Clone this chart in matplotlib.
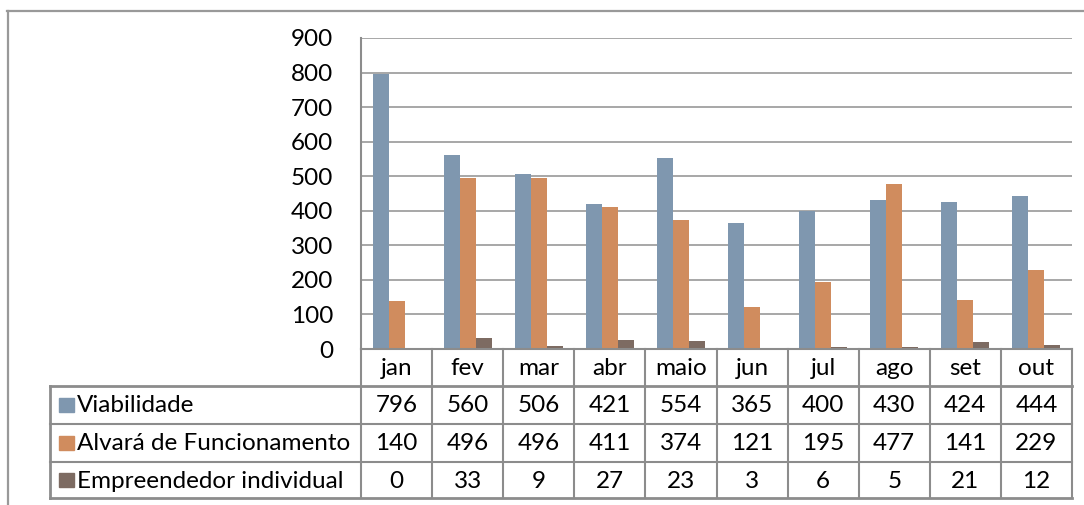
import matplotlib
matplotlib.use("Agg")
import matplotlib.pyplot as plt
from matplotlib.transforms import blended_transform_factory
from matplotlib.patches import Rectangle
from matplotlib.lines import Line2D
import numpy as np

months = ["jan", "fev", "mar", "abr", "maio", "jun", "jul", "ago", "set", "out"]
series_names = ["Viabilidade", "Alvará de Funcionamento", "Empreendedor individual"]
viabilidade = [796, 560, 506, 421, 554, 365, 400, 430, 424, 444]
alvara = [140, 496, 496, 411, 374, 121, 195, 477, 141, 229]
empreendedor = [0, 33, 9, 27, 23, 3, 6, 5, 21, 12]
yticks = [0, 100, 200, 300, 400, 500, 600, 700, 800, 900]

colors = ["#7F97AF", "#D08C5E", "#7D6B62"]
grid_c = "#A0A0A0"
border_c = "#8C8C8C"
FS = 17.5

plt.rcParams['font.family'] = ['Lato', 'DejaVu Sans']
W, H = 1084, 505
fig = plt.figure(figsize=(W / 100, H / 100), dpi=100)
ax = fig.add_axes([361 / W, 1 - 349 / H, (1072 - 361) / W, (349 - 38) / H])

data = [viabilidade, alvara, empreendedor]
x = np.arange(len(months))
bw = 0.225
for i, (vals, c) in enumerate(zip(data, colors)):
    ax.bar(x + (i - 1) * bw, vals, width=bw, color=c, zorder=3)

ax.set_xlim(-0.5, len(months) - 0.5)
ax.set_ylim(0, 900)
ax.set_yticks(yticks)
ax.set_yticklabels([str(v) for v in yticks], fontsize=FS)
ax.tick_params(axis='y', length=0, pad=20)
ax.set_xticks([])
ax.yaxis.grid(True, color=grid_c, linewidth=1.3, zorder=0)
for s in ["top", "right", "bottom"]:
    ax.spines[s].set_visible(False)
ax.spines["left"].set_color(border_c)
ax.spines["left"].set_linewidth(1.5)

# Data table below the axes
tr = blended_transform_factory(ax.transData, fig.transFigure)
def fy(py):
    return 1 - py / H

col_w = (1072 - 361) / len(months)
x_label_left = -0.5 - (361 - 50) / col_w
rows_y = [349, 386, 424, 462, 498]
xr = len(months) - 0.5

def hline(x0, x1, py, lw=1.5):
    fig.add_artist(Line2D([x0, x1], [fy(py), fy(py)], transform=tr, color=border_c, lw=lw, clip_on=False))

def vline(xx, py0, py1, lw=1.5):
    fig.add_artist(Line2D([xx, xx], [fy(py0), fy(py1)], transform=tr, color=border_c, lw=lw, clip_on=False))

hline(-0.5, xr, 349)
for py in rows_y[1:]:
    hline(x_label_left, xr, py, lw=2 if py in (386, 498) else 1.5)
for k in range(len(months) + 1):
    vline(k - 0.5, 349, 498)
vline(x_label_left, 386, 498, lw=2)

for k, m in enumerate(months):
    fig.text(k, fy((349 + 386) / 2 + 1), m, transform=tr, ha='center', va='center', fontsize=FS)

for r, (name, vals, c) in enumerate(zip(series_names, data, colors)):
    yc = (rows_y[r + 1] + rows_y[r + 2]) / 2
    for k, v in enumerate(vals):
        fig.text(k, fy(yc + 1), str(v), transform=tr, ha='center', va='center', fontsize=FS)
    fig.add_artist(Rectangle((59 / W, fy(yc + 7)), 15 / W, 14 / H, transform=fig.transFigure,
                             color=c, clip_on=False))
    fig.text(77 / W, fy(yc + 1), name, ha='left', va='center', fontsize=FS)

# outer frame
fig.add_artist(Line2D([7 / W, 1.0], [fy(11), fy(11)], transform=fig.transFigure, color="#999999", lw=1.6))
fig.add_artist(Line2D([8 / W, 8 / W], [fy(11), 0], transform=fig.transFigure, color="#999999", lw=1.6))

fig.savefig("out.png", dpi=100)
